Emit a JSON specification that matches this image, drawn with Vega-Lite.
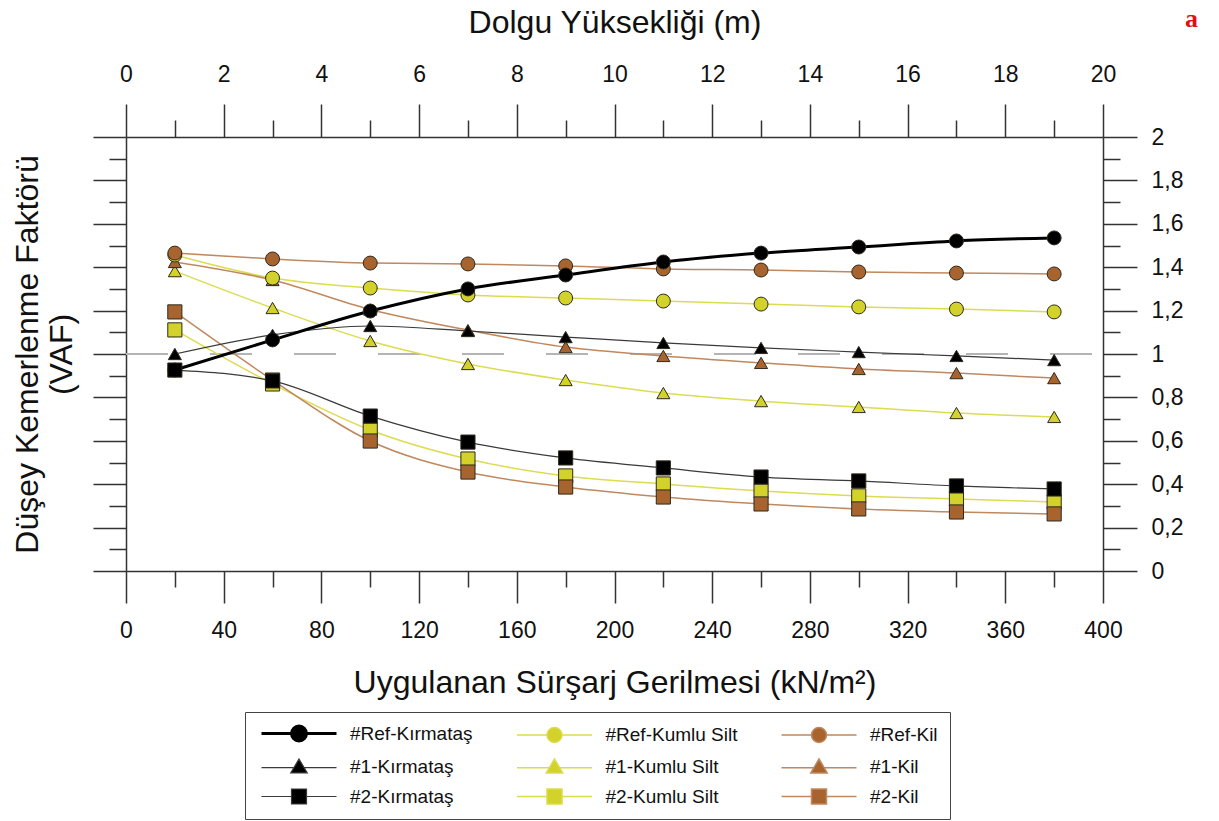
{
  "$schema": "https://vega.github.io/schema/vega-lite/v6.json",
  "width": 977,
  "height": 434,
  "autosize": {"type": "none"},
  "padding": {"left": 126, "top": 137, "right": 116, "bottom": 250},
  "background": "white",
  "config": {
    "view": {"stroke": null},
    "axis": {
      "grid": false,
      "domainColor": "#333333",
      "domainWidth": 1.5,
      "tickColor": "#333333",
      "tickWidth": 1.5,
      "labelFont": "Liberation Sans",
      "labelFontSize": 23,
      "labelColor": "#111111",
      "titleFont": "Liberation Sans",
      "titleFontSize": 32,
      "titleFontWeight": "normal",
      "titleColor": "#111111",
      "labelOverlap": false,
      "labelFlush": false,
      "labelBound": false
    }
  },
  "title": {
    "text": "a",
    "orient": "right",
    "anchor": "start",
    "angle": 0,
    "frame": "bounds",
    "color": "#dd1111",
    "font": "Liberation Serif",
    "fontSize": 26,
    "fontWeight": "bold",
    "offset": -11,
    "dy": 0
  },
  "layer": [
    {
      "data": {"values": [{"h0": 0, "h1": 20, "v": 1}]},
      "mark": {"type": "rule", "color": "#b4b4b4", "strokeWidth": 2, "strokeDash": [42, 42]},
      "encoding": {
        "x": {
          "field": "h0", "type": "quantitative",
          "scale": {"domain": [0, 20], "nice": false},
          "axis": {
            "orient": "top",
            "title": "Dolgu Yüksekliği (m)",
            "titlePadding": 24,
            "values": [0,1,2,3,4,5,6,7,8,9,10,11,12,13,14,15,16,17,18,19,20],
            "tickSize": {"condition": {"test": "datum.value % 2 == 0", "value": 33}, "value": 17},
            "labelExpr": "datum.value % 2 == 0 ? datum.label : ''",
            "labelPadding": 18
          }
        },
        "x2": {"field": "h1"},
        "y": {
          "field": "v", "type": "quantitative",
          "scale": {"domain": [0, 2], "nice": false},
          "axis": {
            "orient": "right",
            "title": null,
            "values": [0,0.1,0.2,0.3,0.4,0.5,0.6,0.7,0.8,0.9,1,1.1,1.2,1.3,1.4,1.5,1.6,1.7,1.8,1.9,2],
            "tickSize": {"condition": {"test": "round(datum.value*10) % 2 == 0", "value": 34}, "value": 17},
            "labelExpr": "round(datum.value*10) % 2 == 0 ? replace(format(datum.value, '.1~f'), '.', ',') : ''",
            "labelPadding": 14
          }
        }
      }
    },
    {
      "data": {
        "values": [
          {"series": "#2-Kumlu Silt", "s": 20, "vaf": 1.111},
          {"series": "#2-Kumlu Silt", "s": 60, "vaf": 0.862},
          {"series": "#2-Kumlu Silt", "s": 100, "vaf": 0.65},
          {"series": "#2-Kumlu Silt", "s": 140, "vaf": 0.516},
          {"series": "#2-Kumlu Silt", "s": 180, "vaf": 0.438},
          {"series": "#2-Kumlu Silt", "s": 220, "vaf": 0.401},
          {"series": "#2-Kumlu Silt", "s": 260, "vaf": 0.369},
          {"series": "#2-Kumlu Silt", "s": 300, "vaf": 0.346},
          {"series": "#2-Kumlu Silt", "s": 340, "vaf": 0.332},
          {"series": "#2-Kumlu Silt", "s": 380, "vaf": 0.318},
          {"series": "#1-Kumlu Silt", "s": 20, "vaf": 1.382},
          {"series": "#1-Kumlu Silt", "s": 60, "vaf": 1.212},
          {"series": "#1-Kumlu Silt", "s": 100, "vaf": 1.06},
          {"series": "#1-Kumlu Silt", "s": 140, "vaf": 0.954},
          {"series": "#1-Kumlu Silt", "s": 180, "vaf": 0.88},
          {"series": "#1-Kumlu Silt", "s": 220, "vaf": 0.82},
          {"series": "#1-Kumlu Silt", "s": 260, "vaf": 0.783},
          {"series": "#1-Kumlu Silt", "s": 300, "vaf": 0.756},
          {"series": "#1-Kumlu Silt", "s": 340, "vaf": 0.728},
          {"series": "#1-Kumlu Silt", "s": 380, "vaf": 0.71},
          {"series": "#Ref-Kumlu Silt", "s": 20, "vaf": 1.456},
          {"series": "#Ref-Kumlu Silt", "s": 60, "vaf": 1.35},
          {"series": "#Ref-Kumlu Silt", "s": 100, "vaf": 1.304},
          {"series": "#Ref-Kumlu Silt", "s": 140, "vaf": 1.272},
          {"series": "#Ref-Kumlu Silt", "s": 180, "vaf": 1.258},
          {"series": "#Ref-Kumlu Silt", "s": 220, "vaf": 1.244},
          {"series": "#Ref-Kumlu Silt", "s": 260, "vaf": 1.23},
          {"series": "#Ref-Kumlu Silt", "s": 300, "vaf": 1.217},
          {"series": "#Ref-Kumlu Silt", "s": 340, "vaf": 1.207},
          {"series": "#Ref-Kumlu Silt", "s": 380, "vaf": 1.194},
          {"series": "#2-Kil", "s": 20, "vaf": 1.194},
          {"series": "#2-Kil", "s": 60, "vaf": 0.88},
          {"series": "#2-Kil", "s": 100, "vaf": 0.599},
          {"series": "#2-Kil", "s": 140, "vaf": 0.456},
          {"series": "#2-Kil", "s": 180, "vaf": 0.387},
          {"series": "#2-Kil", "s": 220, "vaf": 0.341},
          {"series": "#2-Kil", "s": 260, "vaf": 0.309},
          {"series": "#2-Kil", "s": 300, "vaf": 0.286},
          {"series": "#2-Kil", "s": 340, "vaf": 0.272},
          {"series": "#2-Kil", "s": 380, "vaf": 0.263},
          {"series": "#1-Kil", "s": 20, "vaf": 1.424},
          {"series": "#1-Kil", "s": 60, "vaf": 1.341},
          {"series": "#1-Kil", "s": 100, "vaf": 1.205},
          {"series": "#1-Kil", "s": 140, "vaf": 1.11},
          {"series": "#1-Kil", "s": 180, "vaf": 1.032},
          {"series": "#1-Kil", "s": 220, "vaf": 0.991},
          {"series": "#1-Kil", "s": 260, "vaf": 0.959},
          {"series": "#1-Kil", "s": 300, "vaf": 0.931},
          {"series": "#1-Kil", "s": 340, "vaf": 0.912},
          {"series": "#1-Kil", "s": 380, "vaf": 0.889},
          {"series": "#Ref-Kil", "s": 20, "vaf": 1.465},
          {"series": "#Ref-Kil", "s": 60, "vaf": 1.438},
          {"series": "#Ref-Kil", "s": 100, "vaf": 1.419},
          {"series": "#Ref-Kil", "s": 140, "vaf": 1.415},
          {"series": "#Ref-Kil", "s": 180, "vaf": 1.406},
          {"series": "#Ref-Kil", "s": 220, "vaf": 1.392},
          {"series": "#Ref-Kil", "s": 260, "vaf": 1.387},
          {"series": "#Ref-Kil", "s": 300, "vaf": 1.378},
          {"series": "#Ref-Kil", "s": 340, "vaf": 1.373},
          {"series": "#Ref-Kil", "s": 380, "vaf": 1.369},
          {"series": "#2-Kırmataş", "s": 20, "vaf": 0.926},
          {"series": "#2-Kırmataş", "s": 60, "vaf": 0.876},
          {"series": "#2-Kırmataş", "s": 100, "vaf": 0.714},
          {"series": "#2-Kırmataş", "s": 140, "vaf": 0.594},
          {"series": "#2-Kırmataş", "s": 180, "vaf": 0.521},
          {"series": "#2-Kırmataş", "s": 220, "vaf": 0.475},
          {"series": "#2-Kırmataş", "s": 260, "vaf": 0.433},
          {"series": "#2-Kırmataş", "s": 300, "vaf": 0.415},
          {"series": "#2-Kırmataş", "s": 340, "vaf": 0.392},
          {"series": "#2-Kırmataş", "s": 380, "vaf": 0.378},
          {"series": "#1-Kırmataş", "s": 20, "vaf": 1.0},
          {"series": "#1-Kırmataş", "s": 60, "vaf": 1.088},
          {"series": "#1-Kırmataş", "s": 100, "vaf": 1.129},
          {"series": "#1-Kırmataş", "s": 140, "vaf": 1.106},
          {"series": "#1-Kırmataş", "s": 180, "vaf": 1.078},
          {"series": "#1-Kırmataş", "s": 220, "vaf": 1.051},
          {"series": "#1-Kırmataş", "s": 260, "vaf": 1.028},
          {"series": "#1-Kırmataş", "s": 300, "vaf": 1.009},
          {"series": "#1-Kırmataş", "s": 340, "vaf": 0.991},
          {"series": "#1-Kırmataş", "s": 380, "vaf": 0.972},
          {"series": "#Ref-Kırmataş", "s": 20, "vaf": 0.926},
          {"series": "#Ref-Kırmataş", "s": 60, "vaf": 1.065},
          {"series": "#Ref-Kırmataş", "s": 100, "vaf": 1.198},
          {"series": "#Ref-Kırmataş", "s": 140, "vaf": 1.3},
          {"series": "#Ref-Kırmataş", "s": 180, "vaf": 1.364},
          {"series": "#Ref-Kırmataş", "s": 220, "vaf": 1.424},
          {"series": "#Ref-Kırmataş", "s": 260, "vaf": 1.465},
          {"series": "#Ref-Kırmataş", "s": 300, "vaf": 1.493},
          {"series": "#Ref-Kırmataş", "s": 340, "vaf": 1.521},
          {"series": "#Ref-Kırmataş", "s": 380, "vaf": 1.535}
        ]
      },
      "encoding": {
        "x": {
          "field": "s", "type": "quantitative",
          "scale": {"domain": [0, 400], "nice": false},
          "axis": {
            "orient": "bottom",
            "title": "Uygulanan Sürşarj Gerilmesi (kN/m²)",
            "titlePadding": 25,
            "values": [0,20,40,60,80,100,120,140,160,180,200,220,240,260,280,300,320,340,360,380,400],
            "tickSize": {"condition": {"test": "datum.value % 40 == 0", "value": 32}, "value": 16},
            "labelExpr": "datum.value % 40 == 0 ? datum.label : ''",
            "labelPadding": 16
          }
        },
        "y": {
          "field": "vaf", "type": "quantitative",
          "scale": {"domain": [0, 2], "nice": false},
          "axis": {
            "orient": "left",
            "title": ["Düşey Kemerlenme Faktörü", "(VAF)"],
            "titlePadding": 14,
            "labels": false,
            "values": [0,0.1,0.2,0.3,0.4,0.5,0.6,0.7,0.8,0.9,1,1.1,1.2,1.3,1.4,1.5,1.6,1.7,1.8,1.9,2],
            "tickSize": {"condition": {"test": "round(datum.value*10) % 2 == 0", "value": 33}, "value": 17}
          }
        }
      },
      "layer": [
        {
          "mark": {"type": "line", "interpolate": "monotone"},
          "encoding": {
            "color": {
              "field": "series", "type": "nominal",
              "scale": {
                "domain": ["#Ref-Kırmataş", "#Ref-Kumlu Silt", "#Ref-Kil", "#1-Kırmataş", "#1-Kumlu Silt", "#1-Kil", "#2-Kırmataş", "#2-Kumlu Silt", "#2-Kil"],
                "range": ["#000000", "#dcdc50", "#c0885e", "#3a3a3a", "#dcdc50", "#c0885e", "#3a3a3a", "#dcdc50", "#c0885e"]
              }
            },
            "strokeWidth": {
              "field": "series", "type": "nominal",
              "scale": {
                "type": "ordinal",
                "domain": ["#Ref-Kırmataş", "#Ref-Kumlu Silt", "#Ref-Kil", "#1-Kırmataş", "#1-Kumlu Silt", "#1-Kil", "#2-Kırmataş", "#2-Kumlu Silt", "#2-Kil"],
                "range": [3, 1.5, 1.5, 1.2, 1.5, 1.5, 1.2, 1.5, 1.5]
              }
            }
          }
        },
        {
          "transform": [{"filter": {"field": "series", "oneOf": ["#1-Kırmataş", "#1-Kumlu Silt", "#1-Kil"]}}],
          "mark": {"type": "point", "shape": "triangle-up", "size": 170, "filled": true, "opacity": 1, "stroke": "#2e2a1e", "strokeWidth": 1},
          "encoding": {
            "fill": {
              "field": "series", "type": "nominal",
              "scale": {
                "domain": ["#Ref-Kırmataş", "#Ref-Kumlu Silt", "#Ref-Kil", "#1-Kırmataş", "#1-Kumlu Silt", "#1-Kil", "#2-Kırmataş", "#2-Kumlu Silt", "#2-Kil"],
                "range": ["#000000", "#d2d22a", "#a8642e", "#000000", "#d2d22a", "#a8642e", "#000000", "#d2d22a", "#a8642e"]
              }
            }
          }
        },
        {
          "transform": [{"filter": {"field": "series", "oneOf": ["#Ref-Kırmataş", "#Ref-Kumlu Silt", "#Ref-Kil"]}}],
          "mark": {"type": "point", "shape": "circle", "size": 195, "filled": true, "opacity": 1, "stroke": "#2e2a1e", "strokeWidth": 1},
          "encoding": {
            "fill": {"field": "series", "type": "nominal"}
          }
        },
        {
          "transform": [{"filter": {"field": "series", "oneOf": ["#2-Kırmataş", "#2-Kumlu Silt", "#2-Kil"]}}],
          "mark": {"type": "point", "shape": "square", "size": 200, "filled": true, "opacity": 1, "stroke": "#2e2a1e", "strokeWidth": 1},
          "encoding": {
            "fill": {"field": "series", "type": "nominal"}
          }
        },
        {
          "mark": {"type": "point", "filled": true, "opacity": 0},
          "encoding": {
            "fill": {"field": "series", "type": "nominal"},
            "shape": {
              "field": "series", "type": "nominal",
              "scale": {
                "domain": ["#Ref-Kırmataş", "#Ref-Kumlu Silt", "#Ref-Kil", "#1-Kırmataş", "#1-Kumlu Silt", "#1-Kil", "#2-Kırmataş", "#2-Kumlu Silt", "#2-Kil"],
                "range": [
                  "M-5,0H-1M1,0H5M1,0A1,1,0,1,1,-1,0A1,1,0,1,1,1,0Z",
                  "M-5,0H-1M1,0H5M1,0A1,1,0,1,1,-1,0A1,1,0,1,1,1,0Z",
                  "M-5,0H-1M1,0H5M1,0A1,1,0,1,1,-1,0A1,1,0,1,1,1,0Z",
                  "M-5,0.15H-0.62M0.62,0.15H5M0,-1L1.1,0.85L-1.1,0.85Z",
                  "M-5,0.15H-0.62M0.62,0.15H5M0,-1L1.1,0.85L-1.1,0.85Z",
                  "M-5,0.15H-0.62M0.62,0.15H5M0,-1L1.1,0.85L-1.1,0.85Z",
                  "M-5,0H-1M1,0H5M-1,-1H1V1H-1Z",
                  "M-5,0H-1M1,0H5M-1,-1H1V1H-1Z",
                  "M-5,0H-1M1,0H5M-1,-1H1V1H-1Z"
                ]
              },
              "legend": {
                "orient": "none",
                "legendX": 119,
                "legendY": 575,
                "title": null,
                "columns": 3,
                "direction": "horizontal",
                "gridAlign": "each",
                "symbolSize": 225,
                "symbolOpacity": 1,
                "symbolOffset": 32.5,
                "labelOffset": 41.5,
                "labelFont": "Liberation Sans",
                "labelFontSize": 19,
                "labelColor": "#111111",
                "labelLimit": 0,
                "rowPadding": 9,
                "columnPadding": 39.5,
                "padding": 12,
                "strokeColor": "#444444",
                "fillColor": "white"
              }
            }
          }
        }
      ]
    }
  ],
  "resolve": {"scale": {"x": "independent"}, "axis": {"y": "independent", "x": "independent"}}
}
